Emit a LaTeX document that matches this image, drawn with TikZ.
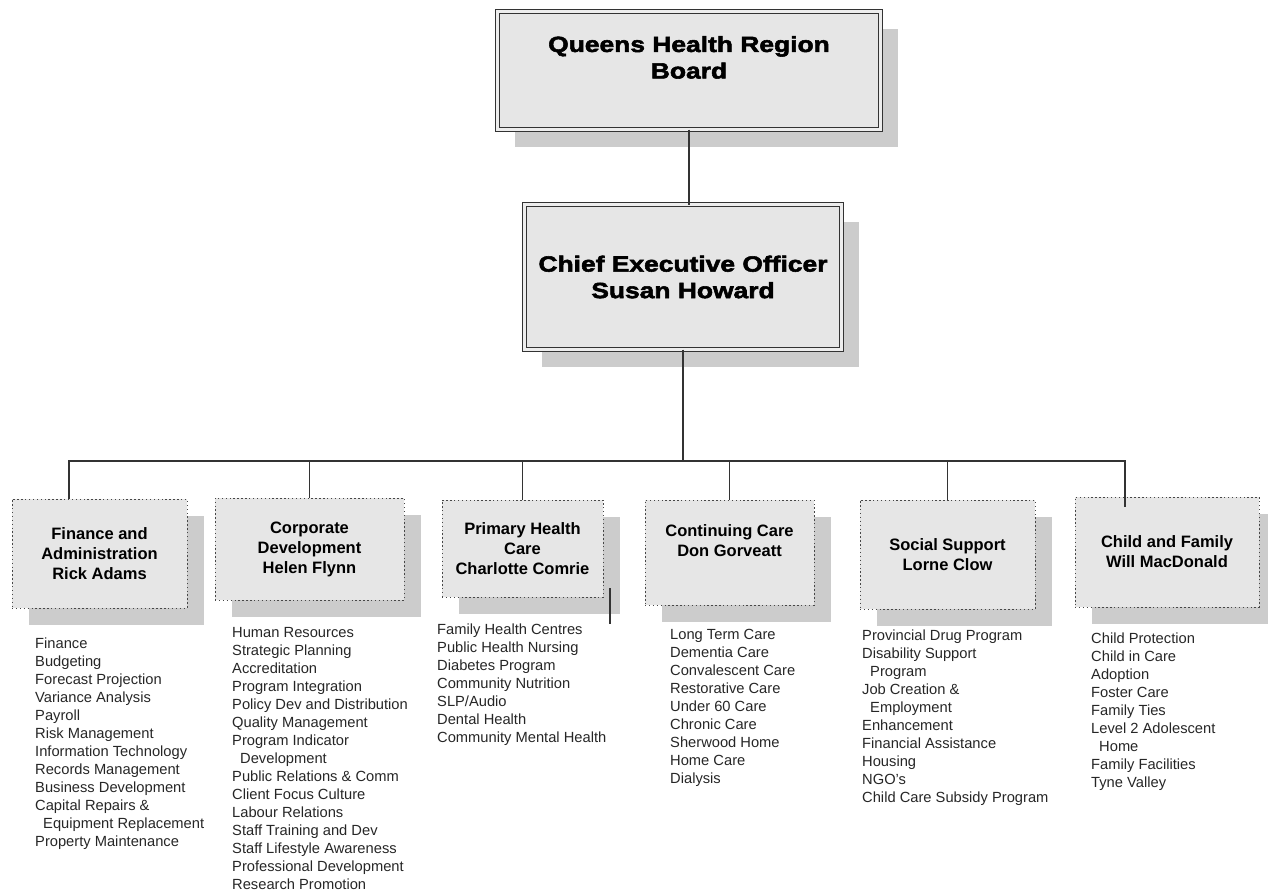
\documentclass[tikz,border=0pt]{standalone}
\usepackage{fontspec}
\setmainfont{Liberation Sans}
\newfontfamily\headfont{Liberation Sans}[FakeStretch=1.2,BoldFeatures={FakeBold=2.5}]
\usetikzlibrary{shadows}
\definecolor{boxfill}{HTML}{E6E6E6}
\definecolor{shadowgray}{HTML}{CCCCCC}
\definecolor{linegray}{HTML}{333333}
\tikzset{
  bigbox/.style={draw=linegray, line width=0.9pt, double=white!93!black, double distance=2.4pt,
    fill=boxfill, outer sep=0pt, align=center,
    font=\headfont\bfseries\fontsize{22}{26.5}\selectfont,
    drop shadow={shadow xshift=17pt, shadow yshift=-17pt, fill=shadowgray, opacity=1}},
  deptbox/.style={draw=linegray!90, line width=1pt, dash pattern=on 1.4pt off 2.5pt,
    fill=boxfill, outer sep=0pt, align=center, inner sep=2pt,
    font=\bfseries\fontsize{16.5}{20}\selectfont,
    drop shadow={shadow xshift=17pt, shadow yshift=-17pt, fill=shadowgray, opacity=1}},
  tasks/.style={anchor=north west, inner sep=0pt, align=left,
    font=\fontsize{14.7}{18}\selectfont, text=black!85},
  conn/.style={draw=linegray, line width=1.3pt}
}
\begin{document}
\begin{tikzpicture}[x=1pt, y=-1pt]
  \useasboundingbox (0,0) rectangle (1268,894);

  % boxes
  \node[bigbox, minimum width=383pt, minimum height=118pt] (board) at (689,70.5)
    {Queens Health Region\\Board\\\mbox{}};
  \node[bigbox, minimum width=317pt, minimum height=145pt] (ceo) at (683,277)
    {Chief Executive Officer\\Susan Howard};

  \node[deptbox, minimum width=175pt, minimum height=109pt] (fin) at (99.5,553.5)
    {Finance and\\Administration\\Rick Adams};
  \node[deptbox, minimum width=189pt, minimum height=102pt] (corp) at (309.5,549)
    {Corporate\\Development\\Helen Flynn};
  \node[deptbox, minimum width=161pt, minimum height=97pt] (prim) at (522.5,548.5)
    {Primary Health\\Care\\Charlotte Comrie};
  \node[deptbox, minimum width=169pt, minimum height=105pt] (cont) at (729.5,552.5)
    {Continuing Care\\Don Gorveatt\\[3pt]\mbox{}};
  \node[deptbox, minimum width=175pt, minimum height=109pt] (soc) at (947.5,554.5)
    {Social Support\\Lorne Clow};
  \node[deptbox, minimum width=184pt, minimum height=110pt] (child) at (1167,552)
    {Child and Family\\Will MacDonald};

  % lines
  \coordinate (bus) at (683,461);
  \draw[conn] (board.south) -- (board.south |- ceo.north);
  \draw[conn] (ceo.south) -- (bus);
  \draw[conn] (bus) -| ([xshift=-30.5pt]fin.north);
  \draw[conn] (bus) -| (corp.north);
  \draw[conn] (bus) -| (prim.north);
  \draw[conn] (bus) -| (cont.north);
  \draw[conn] (bus) -| (soc.north);
  \draw[conn] (bus) -| ([xshift=-42pt,yshift=-10pt]child.north);
  \draw[conn] ([shift={(7,-9)}]prim.south east) -- ++(0,36);

  % lists
  \node[tasks] (finlist) at (35,637.3) {Finance\\Budgeting\\Forecast Projection\\Variance Analysis\\Payroll\\Risk Management\\Information Technology\\Records Management\\Business Development\\Capital Repairs \&\\\hspace*{8pt}Equipment Replacement\\Property Maintenance};
  \node[tasks] (corplist) at (232,627.3) {Human Resources\\Strategic Planning\\Accreditation\\Program Integration\\Policy Dev and Distribution\\Quality Management\\Program Indicator\\\hspace*{8pt}Development\\Public Relations \& Comm\\Client Focus Culture\\Labour Relations\\Staff Training and Dev\\Staff Lifestyle Awareness\\Professional Development\\Research Promotion};
  \node[tasks] (primlist) at (437,623.3) {Family Health Centres\\Public Health Nursing\\Diabetes Program\\Community Nutrition\\SLP/Audio\\Dental Health\\Community Mental Health};
  \node[tasks] (contlist) at (670,629.3) {Long Term Care\\Dementia Care\\Convalescent Care\\Restorative Care\\Under 60 Care\\Chronic Care\\Sherwood Home\\Home Care\\Dialysis};
  \node[tasks] (soclist) at (862,629.3) {Provincial Drug Program\\Disability Support\\\hspace*{8pt}Program\\Job Creation \&\\\hspace*{8pt}Employment\\Enhancement\\Financial Assistance\\Housing\\NGO's\\Child Care Subsidy Program};
  \node[tasks] (childlist) at (1091,632.3) {Child Protection\\Child in Care\\Adoption\\Foster Care\\Family Ties\\Level 2 Adolescent\\\hspace*{8pt}Home\\Family Facilities\\Tyne Valley};
\end{tikzpicture}
\end{document}
